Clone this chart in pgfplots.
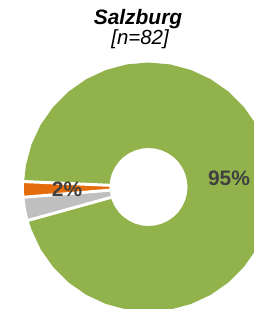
\documentclass[border=0pt]{standalone}
\usepackage{pgfplots}
\pgfplotsset{compat=1.18}
\usepackage{fontspec}
\setmainfont{Liberation Sans}
\definecolor{cgreen}{HTML}{92B34C}
\definecolor{corange}{HTML}{E46C0A}
\definecolor{cgrey}{HTML}{BFBFBF}
\definecolor{ctext}{HTML}{404040}
\begin{document}
\begin{tikzpicture}
\begin{axis}[
  hide axis, scale only axis, clip=true,
  x=124bp, y=124bp,
  xmin=-1.1976, xmax=0.8508, ymin=-0.9839, ymax=1.5081,
]
% green 95% : 195.5 -> 537.5
\addplot[draw=none, fill=cgreen, data cs=polar] coordinates {
(195.5,1.004)(200,1.004)(210,1.004)(220,1.004)(230,1.004)(240,1.004)(250,1.004)(260,1.004)(270,1.004)(280,1.004)(290,1.004)(300,1.004)(310,1.004)(320,1.004)(330,1.004)(340,1.004)(350,1.004)(360,1.004)(370,1.004)(380,1.004)(390,1.004)(400,1.004)(410,1.004)(420,1.004)(430,1.004)(440,1.004)(450,1.004)(460,1.004)(470,1.004)(480,1.004)(490,1.004)(500,1.004)(510,1.004)(520,1.004)(530,1.004)(537.5,1.004)
(537.5,0.315)(530,0.315)(520,0.315)(510,0.315)(500,0.315)(490,0.315)(480,0.315)(470,0.315)(460,0.315)(450,0.315)(440,0.315)(430,0.315)(420,0.315)(410,0.315)(400,0.315)(390,0.315)(380,0.315)(370,0.315)(360,0.315)(350,0.315)(340,0.315)(330,0.315)(320,0.315)(310,0.315)(300,0.315)(290,0.315)(280,0.315)(270,0.315)(260,0.315)(250,0.315)(240,0.315)(230,0.315)(220,0.315)(210,0.315)(200,0.315)(195.5,0.315)
} --cycle;
% orange 2% : 177.5 -> 184.7
\addplot[draw=none, fill=corange, data cs=polar] coordinates {
(177.5,1.004)(181.1,1.004)(184.7,1.004)(184.7,0.315)(177.5,0.315)
} --cycle;
% grey 3% : 184.7 -> 195.5
\addplot[draw=none, fill=cgrey, data cs=polar] coordinates {
(184.7,1.004)(190,1.004)(195.5,1.004)(195.5,0.315)(184.7,0.315)
} --cycle;
% white separators
\addplot[white, line width=3bp, data cs=polar] coordinates {(177.5,0.2)(177.5,1.1)};
\addplot[white, line width=3bp, data cs=polar] coordinates {(184.7,0.2)(184.7,1.1)};
\addplot[white, line width=3bp, data cs=polar] coordinates {(195.5,0.2)(195.5,1.1)};
\node[anchor=base, font=\fontsize{21}{24}\selectfont\bfseries\itshape, inner sep=0pt] at (axis cs:-0.0847,1.3065) {Salzburg};
\node[anchor=base, font=\fontsize{20.5}{24}\selectfont\itshape, inner sep=0pt] at (axis cs:-0.0685,1.1452) {[n=82]};
\node[anchor=base, font=\fontsize{21}{24}\selectfont\bfseries, text=ctext, inner sep=0pt] at (axis cs:0.649,0.016) {95\%};
\node[anchor=base, font=\fontsize{21}{24}\selectfont\bfseries, text=ctext, inner sep=0pt] at (axis cs:-0.657,-0.0806) {2\%};
\end{axis}
\pgfresetboundingbox
\path[use as bounding box] (current axis.south west) rectangle (current axis.north east);
\end{tikzpicture}
\end{document}
